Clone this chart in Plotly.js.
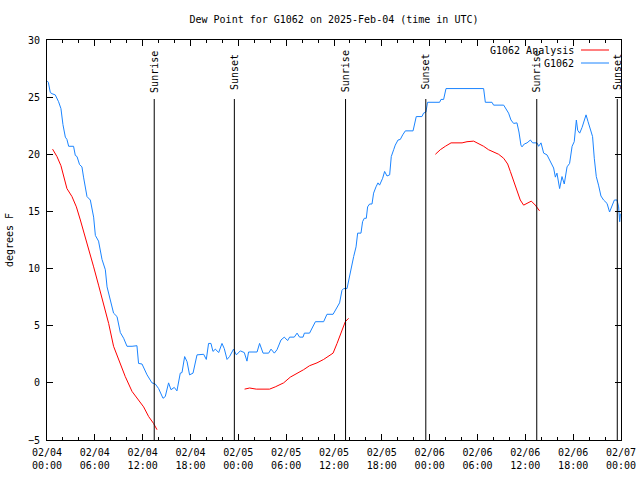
<!DOCTYPE html>
<html>
<head>
<meta charset="utf-8">
<script src="https://cdn.plot.ly/plotly-3.0.1.min.js"></script>
<style>html,body{margin:0;padding:0;background:#fff;}#chart{width:640px;height:480px;}</style>
</head>
<body>
<div id="chart"></div>
<script>
// Observed dew point (G1062)
const obsTimes = [
"2025-02-04 00:02","2025-02-04 00:10","2025-02-04 00:25","2025-02-04 00:38","2025-02-04 01:02","2025-02-04 01:27","2025-02-04 01:45","2025-02-04 02:00","2025-02-04 02:18","2025-02-04 02:30","2025-02-04 02:43","2025-02-04 03:20","2025-02-04 03:33","2025-02-04 03:46","2025-02-04 04:05","2025-02-04 04:23","2025-02-04 04:35","2025-02-04 04:48","2025-02-04 05:01","2025-02-04 05:26","2025-02-04 05:51","2025-02-04 06:04","2025-02-04 06:28","2025-02-04 06:54","2025-02-04 07:19","2025-02-04 07:32","2025-02-04 07:56","2025-02-04 08:21","2025-02-04 08:47","2025-02-04 09:12","2025-02-04 09:37","2025-02-04 10:02","2025-02-04 10:40","2025-02-04 11:17","2025-02-04 11:29","2025-02-04 11:55","2025-02-04 12:33","2025-02-04 13:10","2025-02-04 13:35","2025-02-04 14:00","2025-02-04 14:33","2025-02-04 14:50","2025-02-04 15:15","2025-02-04 15:33","2025-02-04 15:58","2025-02-04 16:18","2025-02-04 16:43","2025-02-04 16:56","2025-02-04 17:16","2025-02-04 17:34","2025-02-04 17:53","2025-02-04 18:19","2025-02-04 18:49","2025-02-04 19:39","2025-02-04 19:59","2025-02-04 20:16","2025-02-04 20:34","2025-02-04 20:49","2025-02-04 21:07","2025-02-04 21:32","2025-02-04 21:57","2025-02-04 22:14","2025-02-04 22:35","2025-02-04 22:54","2025-02-04 23:24","2025-02-04 23:45",
"2025-02-05 00:15","2025-02-05 00:45","2025-02-05 01:05","2025-02-05 01:17","2025-02-05 02:21","2025-02-05 02:40","2025-02-05 03:06","2025-02-05 03:48","2025-02-05 04:06","2025-02-05 04:31","2025-02-05 04:51","2025-02-05 05:21","2025-02-05 05:46","2025-02-05 06:11","2025-02-05 06:26","2025-02-05 07:01","2025-02-05 07:22","2025-02-05 07:41","2025-02-05 08:07","2025-02-05 08:17","2025-02-05 08:56","2025-02-05 09:40","2025-02-05 10:42","2025-02-05 11:07","2025-02-05 11:53","2025-02-05 12:23","2025-02-05 12:42","2025-02-05 13:00","2025-02-05 13:13","2025-02-05 13:38","2025-02-05 13:55","2025-02-05 14:10","2025-02-05 14:28","2025-02-05 14:46","2025-02-05 14:58","2025-02-05 15:23","2025-02-05 15:35","2025-02-05 15:48","2025-02-05 16:03","2025-02-05 16:13","2025-02-05 16:28","2025-02-05 16:46","2025-02-05 16:58","2025-02-05 17:16","2025-02-05 17:31","2025-02-05 17:43","2025-02-05 18:06","2025-02-05 18:21","2025-02-05 18:39","2025-02-05 18:59","2025-02-05 19:11","2025-02-05 19:29","2025-02-05 19:41","2025-02-05 20:02","2025-02-05 20:19","2025-02-05 20:37","2025-02-05 20:57","2025-02-05 21:55","2025-02-05 22:12","2025-02-05 22:19","2025-02-05 23:02","2025-02-05 23:14","2025-02-05 23:32","2025-02-05 23:44",
"2025-02-06 01:15","2025-02-06 01:25","2025-02-06 01:45","2025-02-06 02:03","2025-02-06 06:46","2025-02-06 06:59","2025-02-06 07:49","2025-02-06 08:01","2025-02-06 09:17","2025-02-06 09:37","2025-02-06 09:54","2025-02-06 10:12","2025-02-06 10:32","2025-02-06 10:57","2025-02-06 11:12","2025-02-06 11:27","2025-02-06 11:35","2025-02-06 11:52","2025-02-06 12:13","2025-02-06 12:38","2025-02-06 12:55","2025-02-06 13:28","2025-02-06 13:40","2025-02-06 13:58","2025-02-06 14:18","2025-02-06 14:43","2025-02-06 15:08","2025-02-06 15:33","2025-02-06 15:46","2025-02-06 15:58","2025-02-06 16:18","2025-02-06 16:36","2025-02-06 16:53","2025-02-06 17:14","2025-02-06 17:33","2025-02-06 17:52","2025-02-06 18:08","2025-02-06 18:24","2025-02-06 18:34","2025-02-06 18:49","2025-02-06 19:07","2025-02-06 19:19","2025-02-06 19:37","2025-02-06 19:52","2025-02-06 20:09","2025-02-06 20:26","2025-02-06 20:39","2025-02-06 20:54","2025-02-06 21:11","2025-02-06 21:29","2025-02-06 21:49","2025-02-06 22:15","2025-02-06 22:34","2025-02-06 22:52","2025-02-06 23:10","2025-02-06 23:30","2025-02-06 23:42","2025-02-06 23:50","2025-02-06 23:55"
];
const obsValues = [
26.4,26.3,25.4,25.3,25.2,24.6,24.0,22.6,21.5,21.3,20.7,20.7,19.9,19.8,19.1,18.9,18.0,17.2,16.3,16.0,14.5,12.9,12.4,10.8,9.9,8.4,7.3,6.1,5.8,4.4,3.9,3.2,3.2,3.25,1.7,1.65,0.7,0.0,-0.1,-0.5,-1.35,-1.2,0.0,-0.6,-0.4,-0.7,0.85,0.9,2.3,1.85,0.7,0.85,2.45,2.5,2.05,3.45,3.45,2.75,2.95,2.65,3.45,3.0,2.05,2.3,2.95,2.45,
2.8,2.65,1.9,2.7,2.7,3.45,2.6,2.6,2.95,2.6,2.9,3.75,4.0,3.7,4.0,4.0,4.35,4.0,4.0,4.35,4.35,5.35,5.35,6.0,6.0,6.65,7.0,8.1,8.25,8.25,9.3,10.0,11.05,11.9,13.1,13.1,14.1,14.4,14.4,15.4,15.65,15.65,16.6,17.15,17.5,17.3,17.9,18.5,18.1,18.2,19.8,20.4,20.8,21.25,21.3,21.7,22.05,22.05,22.85,23.3,23.3,23.6,23.7,24.55,
24.55,24.8,24.8,25.75,25.75,24.55,24.55,24.3,24.3,23.9,23.6,23.0,22.7,22.75,21.95,20.8,20.65,20.9,21.0,21.25,21.0,21.0,20.7,21.0,20.1,19.95,19.35,18.8,18.0,18.35,17.0,18.05,17.4,18.9,19.2,20.7,21.1,23.0,22.1,21.85,22.35,22.85,23.45,22.85,22.1,21.55,19.65,18.05,17.3,16.35,16.0,15.7,14.95,15.4,16.0,16.0,15.4,14.1,14.8
];

// Analysis dew point (G1062 Analysis); null marks gaps between runs
const anaTimes = [
"2025-02-04 00:42","2025-02-04 01:15","2025-02-04 01:45","2025-02-04 02:05","2025-02-04 02:30","2025-02-04 03:08","2025-02-04 03:41","2025-02-04 04:11","2025-02-04 04:48","2025-02-04 05:26","2025-02-04 05:51","2025-02-04 06:28","2025-02-04 07:06","2025-02-04 07:44","2025-02-04 08:21","2025-02-04 08:59","2025-02-04 09:49","2025-02-04 10:40","2025-02-04 11:29","2025-02-04 12:07","2025-02-04 12:45","2025-02-04 13:22","2025-02-04 13:48",
"2025-02-04 19:00",
"2025-02-05 00:47","2025-02-05 01:25","2025-02-05 02:15","2025-02-05 03:55","2025-02-05 04:38","2025-02-05 05:41","2025-02-05 06:31","2025-02-05 07:22","2025-02-05 08:11","2025-02-05 08:56","2025-02-05 09:52","2025-02-05 10:42","2025-02-05 11:19","2025-02-05 11:53","2025-02-05 12:23","2025-02-05 12:53","2025-02-05 13:25","2025-02-05 13:50",
"2025-02-05 19:00",
"2025-02-06 00:43","2025-02-06 01:20","2025-02-06 01:58","2025-02-06 02:41","2025-02-06 04:04","2025-02-06 04:41","2025-02-06 05:31","2025-02-06 06:08","2025-02-06 06:46","2025-02-06 07:23","2025-02-06 08:01","2025-02-06 08:39","2025-02-06 09:17","2025-02-06 09:47","2025-02-06 10:07","2025-02-06 10:32","2025-02-06 10:57","2025-02-06 11:22","2025-02-06 11:47","2025-02-06 12:13","2025-02-06 12:45","2025-02-06 13:15","2025-02-06 13:47"
];
const anaValues = [
20.45,19.8,19.0,18.05,17.0,16.3,15.4,14.25,12.8,11.35,10.15,8.55,6.95,5.2,3.2,2.0,0.55,-0.75,-1.5,-2.1,-2.95,-3.55,-4.1,
null,
-0.55,-0.45,-0.55,-0.55,-0.35,0.0,0.5,0.8,1.15,1.5,1.75,2.05,2.35,2.6,3.45,4.35,5.35,5.65,
null,
20.0,20.4,20.7,21.0,21.0,21.1,21.15,20.95,20.7,20.4,20.2,20.0,19.65,19.15,18.5,17.6,16.75,16.0,15.55,15.7,15.9,15.55,15.05
];

// Sunrise / sunset markers
const eventTimes = ["2025-02-04 13:27","2025-02-04 23:30","2025-02-05 13:27","2025-02-05 23:31","2025-02-06 13:26","2025-02-06 23:32"];
const eventLabels = ["Sunrise","Sunset","Sunrise","Sunset","Sunrise","Sunset"];

const seriesNames = ["G1062 Analysis","G1062"];
const seriesColors = ["#ff0000","#1a84ff"];

const FONT = "DejaVu Sans Mono, Liberation Mono, monospace";
const FS = 10;

const traces = [
  {x: anaTimes, y: anaValues, type: "scatter", mode: "lines", name: seriesNames[0],
   line: {color: seriesColors[0], width: 1}, connectgaps: false, showlegend: false},
  {x: obsTimes, y: obsValues, type: "scatter", mode: "lines", name: seriesNames[1],
   line: {color: seriesColors[1], width: 1}, showlegend: false}
];

const shapes = [];
const annotations = [];
eventTimes.forEach((t, i) => {
  shapes.push({type: "line", xref: "x", yref: "paper", x0: t, x1: t, y0: 0, y1: 0.8525,
               line: {color: "#000", width: 1}});
  annotations.push({xref: "x", yref: "paper", x: t, y: 0.9208, text: eventLabels[i], textangle: -90,
                    showarrow: false, xanchor: "center", yanchor: "middle",
                    font: {family: FONT, size: FS, color: "#000"}});
});

// gnuplot-style key: text on left, line sample on right
seriesNames.forEach((n, i) => {
  const yy = i === 0 ? 0.975 : 0.9425;
  annotations.push({xref: "paper", yref: "paper", x: 0.921, y: yy, text: n, showarrow: false,
                    xanchor: "right", yanchor: "middle", font: {family: FONT, size: FS, color: "#000"}});
  shapes.push({type: "line", xref: "paper", yref: "paper", x0: 0.9303, x1: 0.9791, y0: yy, y1: yy,
               line: {color: seriesColors[i], width: 1}});
});

const layout = {
  width: 640, height: 480,
  margin: {l: 47, r: 19, t: 40, b: 40},
  paper_bgcolor: "#fff", plot_bgcolor: "#fff",
  font: {family: FONT, size: FS, color: "#000"},
  title: {text: "Dew Point for G1062 on 2025-Feb-04 (time in UTC)", x: 0.5, xref: "paper",
          y: 0.96, yref: "container", yanchor: "middle", font: {family: FONT, size: FS, color: "#000"}},
  xaxis: {type: "date", range: ["2025-02-04 00:00", "2025-02-07 00:00"],
          tick0: "2025-02-04 00:00", dtick: 6 * 3600000, tickformat: "%m/%d<br>%H:%M",
          ticks: "inside", ticklen: 6, tickcolor: "#000", showgrid: false, zeroline: false,
          showline: true, linecolor: "#000", linewidth: 1, mirror: "ticks", ticklabelstandoff: 3,
          minor: {dtick: 2 * 3600000, ticks: "inside", ticklen: 3, tickcolor: "#000", showgrid: false},
          tickfont: {family: FONT, size: FS, color: "#000"}},
  yaxis: {range: [-5, 30], dtick: 5, tick0: 0, ticks: "inside", ticklen: 6, tickcolor: "#000",
          showgrid: false, zeroline: false, showline: true, linecolor: "#000", linewidth: 1,
          mirror: "ticks", ticklabelstandoff: 4, tickfont: {family: FONT, size: FS, color: "#000"},
          title: {text: "degrees F", standoff: 12, font: {family: FONT, size: FS, color: "#000"}}},
  showlegend: false,
  shapes: shapes,
  annotations: annotations
};

Plotly.newPlot("chart", traces, layout, {displayModeBar: false, staticPlot: true});
</script>
</body>
</html>
